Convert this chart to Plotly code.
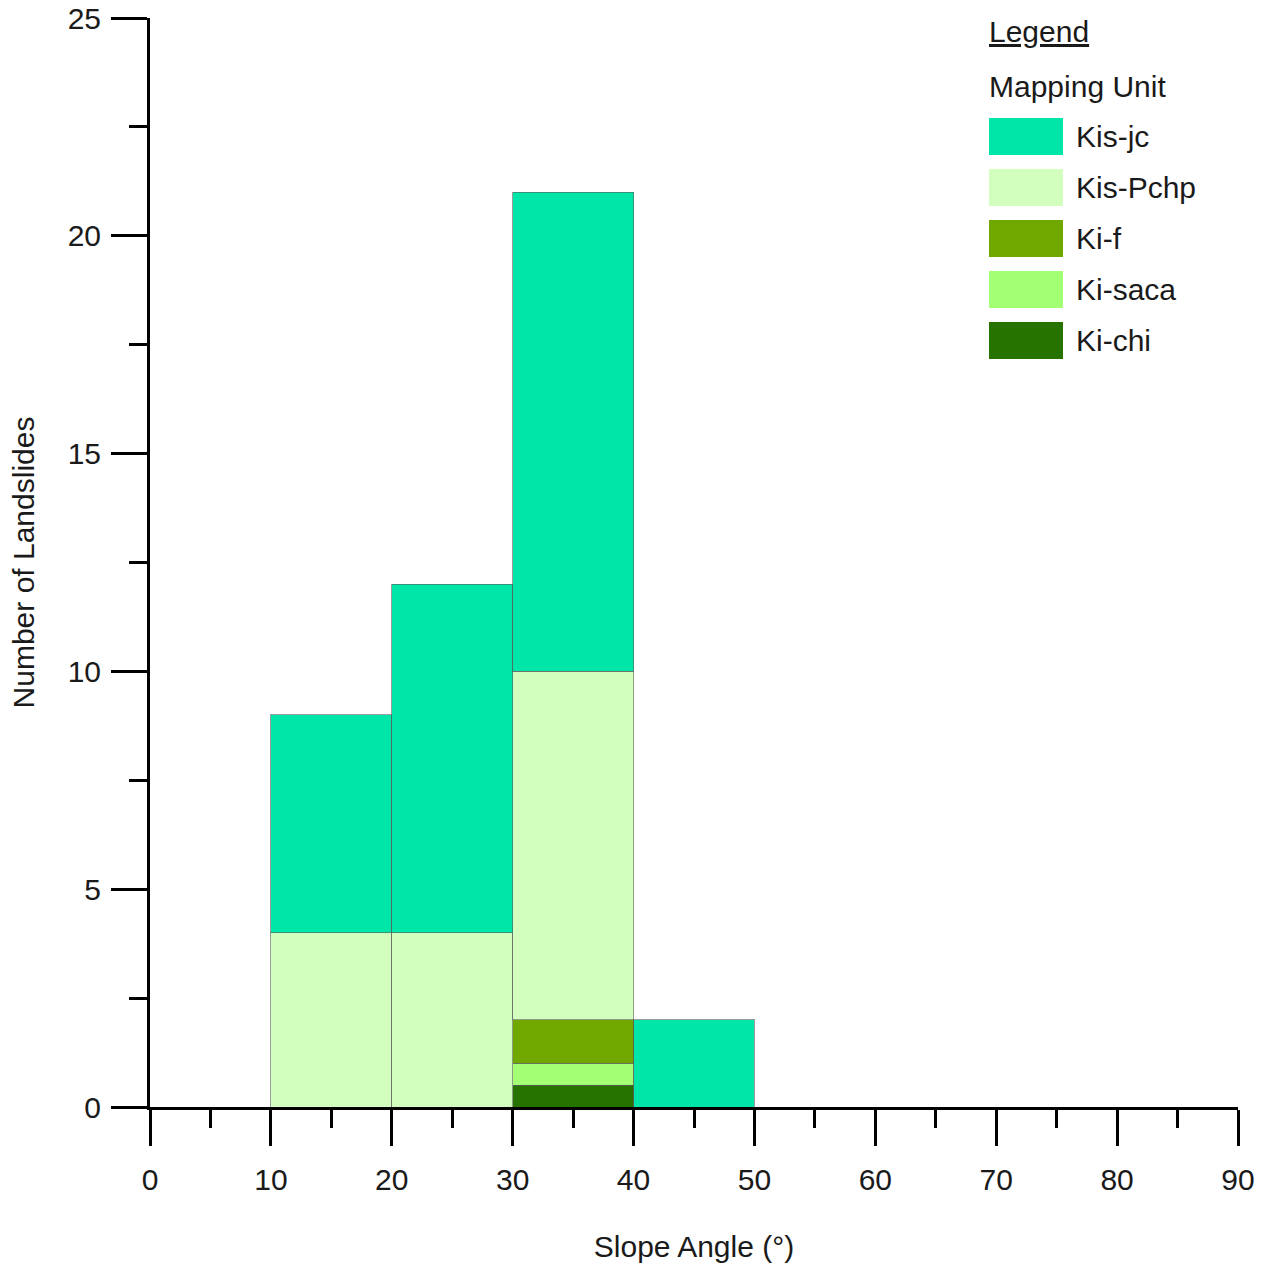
import plotly.graph_objects as go

# ---- data ----
bin_centers = [15, 25, 35, 45]
units = ["Ki-chi", "Ki-saca", "Ki-f", "Kis-Pchp", "Kis-jc"]  # bottom to top
ki_chi = [None, None, 0.5, None]
ki_saca = [None, None, 0.5, None]
ki_f = [None, None, 1, None]
kis_pchp = [4, 4, 8, None]
kis_jc = [5, 8, 11, 2]
series = [ki_chi, ki_saca, ki_f, kis_pchp, kis_jc]
colors = {"Kis-jc": "#00E6A9", "Kis-Pchp": "#D3FFBE", "Ki-f": "#70A800",
          "Ki-saca": "#A3FF73", "Ki-chi": "#267300"}
legend_order = ["Kis-jc", "Kis-Pchp", "Ki-f", "Ki-saca", "Ki-chi"]
x_ticks = list(range(0, 91, 10))
y_ticks = list(range(0, 26, 5))

FONT = "Liberation Sans, Arial, sans-serif"
FS = 30
W, H = 1268, 1263
L, R, T, B = 150, 30, 18, 156
fig = go.Figure()
for name, vals in zip(units, series):
    fig.add_trace(go.Bar(x=bin_centers, y=vals, width=10, name=name,
                         marker=dict(color=colors[name],
                                     line=dict(color="rgba(90,90,90,0.6)", width=1)),
                         showlegend=False))

fig.update_layout(
    barmode="stack",
    width=W, height=H,
    margin=dict(l=L, r=R, t=T, b=B),
    plot_bgcolor="white", paper_bgcolor="white",
    font=dict(family=FONT, size=FS, color="#1a1a1a"),
)
fig.update_xaxes(range=[0, 90], tickvals=x_ticks, ticks="outside", ticklen=36,
                 tickwidth=3, tickcolor="black", showline=True, linecolor="black",
                 linewidth=3, showgrid=False, zeroline=False, automargin=False,
                 ticklabelstandoff=8, ticklabeloverflow="allow",
                 minor=dict(dtick=5, tick0=0, ticks="outside", ticklen=18,
                            tickwidth=3, tickcolor="black"),
                 title=dict(text="Slope Angle (°)", standoff=41,
                            font=dict(size=FS)),
                 tickfont=dict(size=FS))
fig.update_yaxes(range=[0, 25], tickvals=y_ticks, ticks="outside", ticklen=36,
                 tickwidth=3, tickcolor="black", showline=True, linecolor="black",
                 linewidth=3, showgrid=False, zeroline=False, automargin=False,
                 ticklabelstandoff=4, ticklabeloverflow="allow",
                 minor=dict(dtick=2.5, tick0=0, ticks="outside", ticklen=18,
                            tickwidth=3, tickcolor="black"),
                 title=dict(text="Number of Landslides", standoff=25,
                            font=dict(size=FS)),
                 tickfont=dict(size=FS))

# ---- custom legend (positions given in page pixels of the reference) ----
PW = W - L - R
PH = H - T - B

def py(p):
    return ((H - B) - p) / PH

def px(p):
    return (p - L) / PW

fig.add_annotation(xref="paper", yref="paper", x=px(987), y=py(32), text="<u>Legend</u>",
                   showarrow=False, xanchor="left", yanchor="middle", font=dict(size=FS))
fig.add_annotation(xref="paper", yref="paper", x=px(987), y=py(86), text="Mapping Unit",
                   showarrow=False, xanchor="left", yanchor="middle", font=dict(size=FS))
for i, name in enumerate(legend_order):
    top = 118 + i * 51
    fig.add_shape(type="rect", xref="paper", yref="paper", x0=px(989), x1=px(1063),
                  y0=py(top + 37), y1=py(top), fillcolor=colors[name], line=dict(width=0))
    fig.add_annotation(xref="paper", yref="paper", x=px(1074), y=py(top + 18.5), text=name,
                       showarrow=False, xanchor="left", yanchor="middle", font=dict(size=FS))

fig.write_html("out.html", config={"displayModeBar": False},
               post_script="document.body.style.margin='0';")
